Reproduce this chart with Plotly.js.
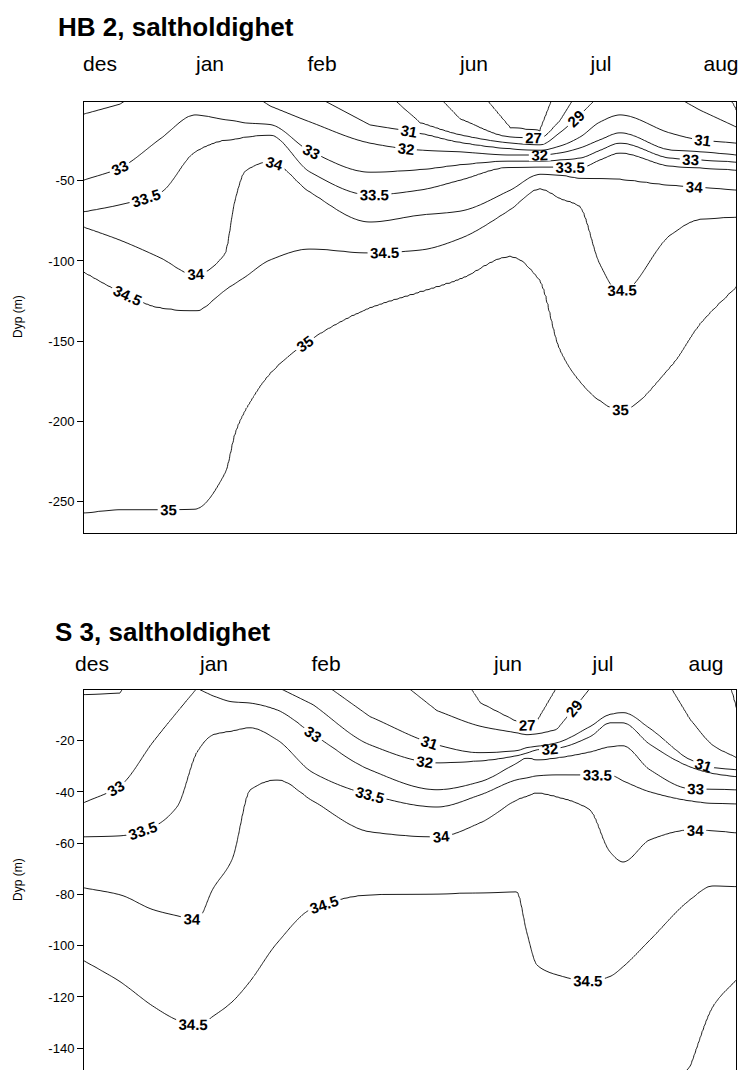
<!DOCTYPE html>
<html>
<head>
<meta charset="utf-8">
<script src="https://cdn.plot.ly/plotly-3.0.1.min.js"></script>
<style>
  html, body { margin: 0; padding: 0; background: #fff; overflow: hidden; }
  #chart { width: 740px; height: 1070px; }
</style>
</head>
<body>
<div id="chart"></div>
<script>
// ---------------- shared ----------------
const MONTHS = ['des', 'jan', 'feb', 'jun', 'jul', 'aug'];
const n = null;

// ---------------- HB 2 (top panel) ----------------
// survey position (day index) of each cruise, and of the read-off columns
const hb2_cruiseX = [16, 126, 238, 390, 517, 637];
const hb2_colX    = [0, 36, 76, 111, 141, 151, 161, 186, 226, 286, 336, 376, 426, 456, 476, 496, 516, 536, 586, 616, 652];
// salinity at the surface and at 270 m in each column
const hb2_surface = [31.7, 31.95, 32.3, 32.6, 32.6, 32.5, 32.4, 31.8, 31.3, 30.0, 28.0, 26.2, 24.0, 23.9, 25.8, 27.7, 29.5, 30.0, 29.6, 28.2, 26.8];
const hb2_bottom  = [35.02, 35.03, 35.03, 35.03, 35.08, 35.1, 35.1, 35.1, 35.15, 35.2, 35.2, 35.2, 35.2, 35.2, 35.2, 35.15, 35.1, 35.1, 35.1, 35.15, 35.2];
// depth (m) of each isohaline in each column (null = not present there)
const hb2_d25   = [n, n, n, n, n, n, n, n, n, n, n, n, 17, 19, n, n, n, n, n, n, n];
const hb2_d27   = [n, n, n, n, n, n, n, n, n, n, n, 11.6, 22.8, 23.4, 12.8, n, n, n, n, n, 6];
const hb2_d29   = [n, n, n, n, n, n, n, n, n, n, 14, 21.5, 26.5, 27.7, 20, 9, n, n, n, 6, 16.5];
const hb2_d31   = [n, n, n, n, n, n, n, n, n, 15.3, 20.3, 26, 30, 31, 28.4, 22.8, 13.4, 9, 20.3, 24.6, 26.5];
const hb2_d32   = [8.4, 2.3, n, n, n, n, n, 3.5, 13.4, 26.5, 30.9, 32, 34, 34, 32.7, 29.6, 24.6, 20.3, 30.9, 32, 34];
const hb2_d33   = [49.6, 42, 24, 9, 12, 12.8, 14, 15, 31.5, 44.6, 43, 40, 37.7, 37.7, 37, 35.8, 31, 26.5, 35.8, 37, 38.3];
const hb2_d335  = [69.5, 65, 57.6, 32, 24.6, 24, 22.8, 21.5, 44.6, 58.9, 55.8, 49.6, 41.5, 41.5, 41.5, 42, 37, 32.7, 40.8, 42, 43.3];
const hb2_d34   = [78.8, 87, 98, 108.8, 96, 62, 44, 38, 57, 75.7, 71.4, 69, 56, 46, 46.4, 48.3, 48.3, 49, 52.7, 54, 55.8];
const hb2_d345  = [106.9, 119, 129, 131, 118, 114, 110, 99.4, 92.5, 95, 93.2, 86, 68, 55, 60.8, 66, 102, 120, 84, 74, 72.6];
const hb2_d35   = [257, 255, 255, 254.5, 232, 207, 193, 170, 149, 129, 119, 111, 97, 112, 155, 175, 187, 193, 166, 139, 116];
const hb2_levels = [25, 27, 29, 31, 32, 33, 33.5, 34, 34.5, 35];
const hb2_depthTable = [hb2_d25, hb2_d27, hb2_d29, hb2_d31, hb2_d32, hb2_d33, hb2_d335, hb2_d34, hb2_d345, hb2_d35];
const hb2_yTicks = [-50, -100, -150, -200, -250];
const hb2_yTickText = ['-50', '-100', '-150', '-200', '-250'];

// ---------------- S 3 (bottom panel) ----------------
const s3_cruiseX = [8, 130, 242, 424, 519, 622];
const s3_colX    = [0, 36, 69, 93, 113, 129, 148, 166, 193, 229, 286, 353, 396, 433, 443, 453, 473, 506, 526, 539, 566, 606, 629, 652];
const s3_surface = [31.9, 31.97, 32.4, 32.7, 33.02, 32.9, 32.8, 32.75, 32.1, 31.4, 30.2, 28.2, 26.7, 26.0, 25.9, 26.3, 27.05, 29.05, 29.8, 30.0, 29.6, 28.5, 27.74, 26.8];
const s3_bottom  = [34.85, 34.85, 34.85, 34.85, 34.85, 34.9, 34.9, 34.9, 34.9, 34.9, 34.9, 34.9, 34.9, 34.9, 34.9, 34.9, 34.92, 34.95, 34.95, 34.95, 34.95, 35.01, 35.1, 35.15];
const s3_d27   = [n, n, n, n, n, n, n, n, n, n, n, n, 5.2, 12.6, 14.5, 12.6, n, n, n, n, n, n, n, 7];
const s3_d29   = [n, n, n, n, n, n, n, n, n, n, n, 8.3, 14.3, 16.9, 17.6, 17.3, 15.7, n, n, n, n, 11.8, 21.9, 26.6];
const s3_d31   = [n, n, n, n, n, n, n, n, n, n, 10.6, 21.6, 24.7, 23.9, 22.7, 22.2, 20.8, 14.5, 9.8, 9.1, 15.3, 27.4, 30.5, 31.3];
const s3_d32   = [2, 1.4, n, n, n, n, n, n, n, 5.9, 21.6, 28.6, 27.8, 25.8, 24.8, 23.5, 22.9, 18.4, 13, 13, 21.4, 30.1, 32.7, 34];
const s3_d33   = [44.2, 37.6, 20.4, 8.7, n, 2.5, 4.8, 5.3, 7.9, 17.3, 31.3, 39.1, 36, 28.6, 26.6, 27.4, 26.6, 24.3, 22.3, 21.9, 31.3, 38.7, 38.9, 39.1];
const s3_d335  = [57.5, 57.1, 53.6, 45.8, 24.3, 17.6, 16.1, 14.9, 19.6, 32.5, 41.1, 45.8, 41.1, 35.2, 34.5, 33.7, 33.3, 33.3, 33.3, 35.6, 39.9, 43.4, 44.4, 44.6];
const s3_d34   = [77.4, 80.1, 85.9, 88.3, 90, 77.8, 66.4, 39.1, 35.2, 43.4, 55.5, 57.5, 52, 43, 41.5, 40.3, 41.8, 46.9, 63.3, 67.3, 58.6, 54.8, 55.1, 55.9];
const s3_d345  = [105.8, 114, 123.6, 129, 131.5, 127.6, 122, 114, 99, 85.3, 80.1, 79.7, 79.3, 79, 95, 107.6, 111.4, 114, 112, 108.2, 97.7, 82, 76.6, 76.9];
const s3_d35   = [n, n, n, n, n, n, n, n, n, n, n, n, n, n, n, n, n, n, n, n, n, 147, 123.5, 113.3];
const s3_levels = [27, 29, 31, 32, 33, 33.5, 34, 34.5, 35];
const s3_depthTable = [s3_d27, s3_d29, s3_d31, s3_d32, s3_d33, s3_d335, s3_d34, s3_d345, s3_d35];
const s3_yTicks = [-20, -40, -60, -80, -100, -120, -140];
const s3_yTickText = ['-20', '-40', '-60', '-80', '-100', '-120', '-140'];

// ---------------- build the z table Plotly needs from the read isohaline depths ----------------
function tangents(xs, ds) {
  return ds.map((d, j) => {
    if (d === null) return null;
    const hasL = j > 0 && ds[j - 1] !== null, hasR = j < ds.length - 1 && ds[j + 1] !== null;
    const sL = hasL ? (d - ds[j - 1]) / (xs[j] - xs[j - 1]) : null;
    const sR = hasR ? (ds[j + 1] - d) / (xs[j + 1] - xs[j]) : null;
    if (sL !== null && sR !== null) return (sL * sR <= 0) ? 0 : 2 / (1 / sL + 1 / sR);
    return sL !== null ? sL : (sR !== null ? sR : 0);
  });
}

function buildGrid(colX, surface, bottom, levels, table, dMax, dStep, xStep) {
  const xs = [];
  for (let x = colX[0]; x < colX[colX.length - 1]; x += xStep) xs.push(x);
  xs.push(colX[colX.length - 1]);
  const depths = [];
  for (let d = 0; d <= dMax + 1e-9; d += dStep) depths.push(+d.toFixed(3));
  const tans = table.map(ds => tangents(colX, ds));
  const z = depths.map(() => new Array(xs.length));

  xs.forEach((x, jj) => {
    let a = 0;
    while (a < colX.length - 2 && x > colX[a + 1]) a++;
    const b = a + 1, h = colX[b] - colX[a];
    const t = (x - colX[a]) / h;
    const surf = surface[a] + t * (surface[b] - surface[a]);
    const bot = bottom[a] + t * (bottom[b] - bottom[a]);
    const pts = [[0, surf]];
    levels.forEach((lv, k) => {
      const da = table[k][a], db = table[k][b];
      let d = null;
      if (da !== null && db !== null) {
        const ma = tans[k][a], mb = tans[k][b];
        const t2 = t * t, t3 = t2 * t;
        d = (2 * t3 - 3 * t2 + 1) * da + (t3 - 2 * t2 + t) * h * ma + (-2 * t3 + 3 * t2) * db + (t3 - t2) * h * mb;
      } else if (da !== null || db !== null) {
        const pres = da !== null ? a : b, abs = da !== null ? b : a;
        const dp = table[k][pres];
        const useSurf = surface[abs] > lv;
        const bArr = useSurf ? surface : bottom;
        const bDepth = useSurf ? 0 : dMax;
        const va = bArr[pres], vb = bArr[abs];
        let s = (vb !== va) ? (lv - va) / (vb - va) : 1;
        s = Math.max(0.001, Math.min(1, s));
        const xStar = colX[pres] + s * (colX[abs] - colX[pres]);
        const f = (x - colX[pres]) / (xStar - colX[pres]);
        if (f >= 0 && f <= 1) d = dp + f * (bDepth - dp);
      }
      if (d !== null) pts.push([d, lv]);
    });
    pts.push([dMax, bot]);
    pts.sort((p, q) => p[0] - q[0]);
    depths.forEach((d, i) => {
      let v = pts[pts.length - 1][1];
      for (let m = 0; m < pts.length - 1; m++) {
        if (d >= pts[m][0] && d <= pts[m + 1][0]) {
          const span = pts[m + 1][0] - pts[m][0];
          const u = span > 0 ? (d - pts[m][0]) / span : 0;
          v = pts[m][1] + u * (pts[m + 1][1] - pts[m][1]);
          break;
        }
      }
      z[i][jj] = v;
    });
  });
  return { x: xs, y: depths.map(d => -d), z: z };
}

const FONT = 'Liberation Sans, Arial, Helvetica, sans-serif';
const LABELFONT = { family: FONT, size: 15, color: '#000', weight: 'bold' };

// one contour trace per level group and per x-section (sections share their boundary column,
// so the lines join seamlessly; it lets each section carry its own line labels)
function contourTraces(grid, xa, ya, groups, cuts) {
  const out = [];
  for (let s = 0; s < cuts.length - 1; s++) {
    const idx = [];
    grid.x.forEach((x, j) => { if (x >= cuts[s] && x <= cuts[s + 1]) idx.push(j); });
    const xsub = idx.map(j => grid.x[j]);
    const zsub = grid.z.map(row => idx.map(j => row[j]));
    groups.forEach(g => out.push({
      type: 'contour',
      x: xsub, y: grid.y, z: zsub,
      xaxis: xa, yaxis: ya,
      autocontour: false,
      contours: { start: g[0], end: g[1], size: g[2], coloring: 'none', showlabels: true, labelfont: LABELFONT },
      line: { color: '#000', width: 0.9, smoothing: 1 },
      showscale: false,
      hoverinfo: 'skip'
    }));
  }
  return out;
}

const hb2Grid = buildGrid(hb2_colX, hb2_surface, hb2_bottom, hb2_levels, hb2_depthTable, 270, 1, 2);
const s3Grid  = buildGrid(s3_colX, s3_surface, s3_bottom, s3_levels, s3_depthTable, 150, 0.5, 2);
const GROUPS = [[25, 31, 2], [32, 33, 1], [33.5, 35, 0.5]];
const hb2_sections = [0, 170, 390, 652];
const s3_sections  = [0, 170, 390, 652];

const traces = []
  .concat(contourTraces(hb2Grid, 'x', 'y', GROUPS, hb2_sections))
  .concat(contourTraces(s3Grid, 'x2', 'y2', GROUPS, s3_sections));

const H = 1070, T = 102, L = 84, W = 652;
const py = v => (H - v) / (H - T);   // pixel row -> paper y
const px = v => (v - L) / W;          // pixel col -> paper x

const xCommon = {
  range: [0, 652], side: 'top', ticks: '', showgrid: false, zeroline: false,
  showline: true, linecolor: '#000', linewidth: 1,
  tickfont: { family: FONT, size: 21, color: '#000' }
};
const yCommon = {
  ticks: 'outside', ticklen: 6, tickcolor: '#000', tickwidth: 1,
  showline: true, mirror: true, linecolor: '#000', linewidth: 1,
  showgrid: false, zeroline: false,
  tickfont: { family: FONT, size: 13, color: '#000' }
};

const layout = {
  width: 740, height: H,
  margin: { l: L, r: 4, t: T, b: 0 },
  paper_bgcolor: '#fff', plot_bgcolor: '#fff',
  showlegend: false, hovermode: false,
  xaxis: Object.assign({}, xCommon, { domain: [0, 1], anchor: 'y', mirror: true,
    tickvals: hb2_cruiseX, ticktext: MONTHS, ticklabelstandoff: 22 }),
  yaxis: Object.assign({}, yCommon, { domain: [py(533), 1], anchor: 'x', range: [-269.5, -0.97],
    tickvals: hb2_yTicks, ticktext: hb2_yTickText }),
  xaxis2: Object.assign({}, xCommon, { domain: [0, 1], anchor: 'y2', mirror: false,
    tickvals: s3_cruiseX, ticktext: MONTHS, ticklabelstandoff: 10 }),
  yaxis2: Object.assign({}, yCommon, { domain: [0, py(690)], anchor: 'x2', range: [-148.5, -0.2],
    tickvals: s3_yTicks, ticktext: s3_yTickText }),
  annotations: [
    { text: '<b>HB 2, saltholdighet</b>', xref: 'paper', yref: 'paper', x: px(56), y: py(27),
      xanchor: 'left', yanchor: 'middle', showarrow: false, font: { family: FONT, size: 26, color: '#000' } },
    { text: '<b>S 3, saltholdighet</b>', xref: 'paper', yref: 'paper', x: px(53), y: py(632),
      xanchor: 'left', yanchor: 'middle', showarrow: false, font: { family: FONT, size: 26, color: '#000' } },
    { text: 'Dyp (m)', xref: 'paper', yref: 'paper', x: px(18), y: py(317), textangle: -90,
      xanchor: 'center', yanchor: 'middle', showarrow: false, font: { family: FONT, size: 12, color: '#000' } },
    { text: 'Dyp (m)', xref: 'paper', yref: 'paper', x: px(18), y: py(880), textangle: -90,
      xanchor: 'center', yanchor: 'middle', showarrow: false, font: { family: FONT, size: 12, color: '#000' } }
  ]
};

Plotly.newPlot('chart', traces, layout, { staticPlot: true, displayModeBar: false });
</script>
</body>
</html>
